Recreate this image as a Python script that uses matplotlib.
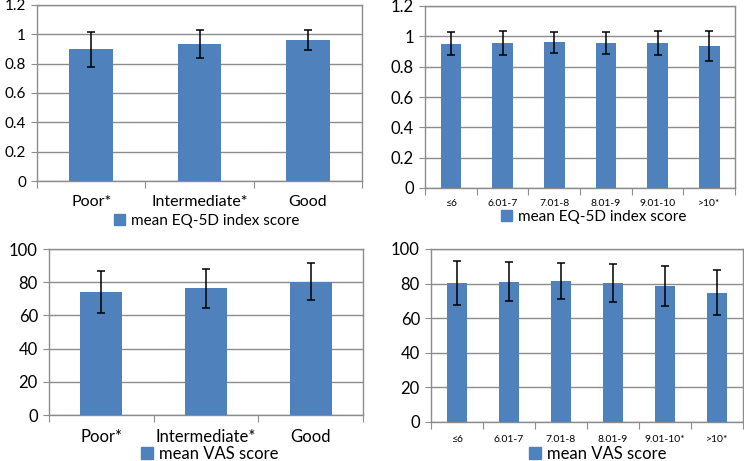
import matplotlib
matplotlib.use("Agg")
import matplotlib.pyplot as plt
import matplotlib.patches as mpatches
import numpy as np

plt.rcParams["font.family"] = ["Lato", "DejaVu Sans"]

# health status categories
statusLabels = ["Poor*", "Intermediate*", "Good"]
statusEqMean = [0.898, 0.935, 0.962]
statusEqSd = [0.118, 0.095, 0.070]
statusVasMean = [74.2, 76.4, 80.3]
statusVasSd = [12.5, 11.8, 11.2]

# score range categories
rangeEqLabels = ["≤6", "6.01-7", "7.01-8", "8.01-9", "9.01-10", ">10*"]
rangeVasLabels = ["≤6", "6.01-7", "7.01-8", "8.01-9", "9.01-10*", ">10*"]
rangeEqMean = [0.952, 0.956, 0.960, 0.957, 0.955, 0.937]
rangeEqSd = [0.076, 0.080, 0.070, 0.074, 0.078, 0.101]
rangeVasMean = [80.5, 81.2, 81.5, 80.4, 78.4, 74.8]
rangeVasSd = [12.6, 11.0, 10.5, 11.2, 11.6, 13.0]

W, H = 744, 461
BLUE = "#4F81BD"
GRID = "#8C8C8C"

fig = plt.figure(figsize=(W / 100, H / 100), dpi=100)


def addPanel(left, right, top, bottom):
    return fig.add_axes([left / W, 1 - bottom / H, (right - left) / W, (bottom - top) / H])


def drawBars(ax, labels, means, sds, yMax, yStep, tickSize, labelSize, labelPad, yFmt):
    x = np.arange(len(labels))
    ax.bar(x, means, width=0.4, color=BLUE, linewidth=0, zorder=3)
    ax.errorbar(x, means, yerr=sds, fmt="none", ecolor="black", elinewidth=1.1,
                capsize=2.6, capthick=1.1, zorder=4)
    ax.set_xlim(-0.5, len(labels) - 0.5)
    ax.set_ylim(0, yMax)
    ticks = np.arange(0, yMax + yStep / 2, yStep)
    ax.set_yticks(ticks)
    ax.set_yticklabels([yFmt(t) for t in ticks], fontsize=tickSize)
    ax.set_axisbelow(True)
    # boundary ticks as major (no labels), category names on minor ticks
    ax.set_xticks(np.arange(-0.5, len(labels)))
    ax.set_xticklabels([])
    ax.set_xticks(x, minor=True)
    ax.set_xticklabels(labels, minor=True, fontsize=labelSize)
    ax.tick_params(axis="x", which="major", length=5, color=GRID, direction="out")
    ax.tick_params(axis="x", which="minor", length=0, pad=labelPad)
    ax.yaxis.grid(True, which="major", color=GRID, linewidth=1)
    ax.tick_params(axis="y", length=4, color=GRID, pad=4)
    for tick in ax.xaxis.get_major_ticks() + ax.xaxis.get_minor_ticks():
        tick.gridline.set_visible(False)
    for spine in ax.spines.values():
        spine.set_color(GRID)
        spine.set_linewidth(1)


def addLegend(label, x, y, size):
    handle = mpatches.Patch(color=BLUE, label=label)
    fig.legend(handles=[handle], loc="center", bbox_to_anchor=(x / W, 1 - y / H),
               frameon=False, fontsize=size, handlelength=0.7, handleheight=0.7,
               handletextpad=0.4, borderpad=0, borderaxespad=0)


def eqFmt(t):
    return "0" if t == 0 else f"{t:.1f}".rstrip("0").rstrip(".")


def vasFmt(t):
    return f"{int(round(t))}"


ax1 = addPanel(37, 362, 5, 181)
drawBars(ax1, statusLabels, statusEqMean, statusEqSd, 1.2, 0.2, 11, 11.5, 10, eqFmt)
addLegend("mean EQ-5D index score", 207, 221, 11)

ax2 = addPanel(425, 735, 6, 188)
drawBars(ax2, rangeEqLabels, rangeEqMean, rangeEqSd, 1.2, 0.2, 12, 7.5, 8, eqFmt)
addLegend("mean EQ-5D index score", 594, 217, 11)

ax3 = addPanel(49, 363, 249, 415)
drawBars(ax3, statusLabels, statusVasMean, statusVasSd, 100, 20, 12, 12, 10, vasFmt)
addLegend("mean VAS score", 210, 454, 12)

ax4 = addPanel(431, 743, 249, 422)
drawBars(ax4, rangeVasLabels, rangeVasMean, rangeVasSd, 100, 20, 12, 7.5, 9, vasFmt)
addLegend("mean VAS score", 598, 454, 12)

fig.savefig("out.png", dpi=100)
